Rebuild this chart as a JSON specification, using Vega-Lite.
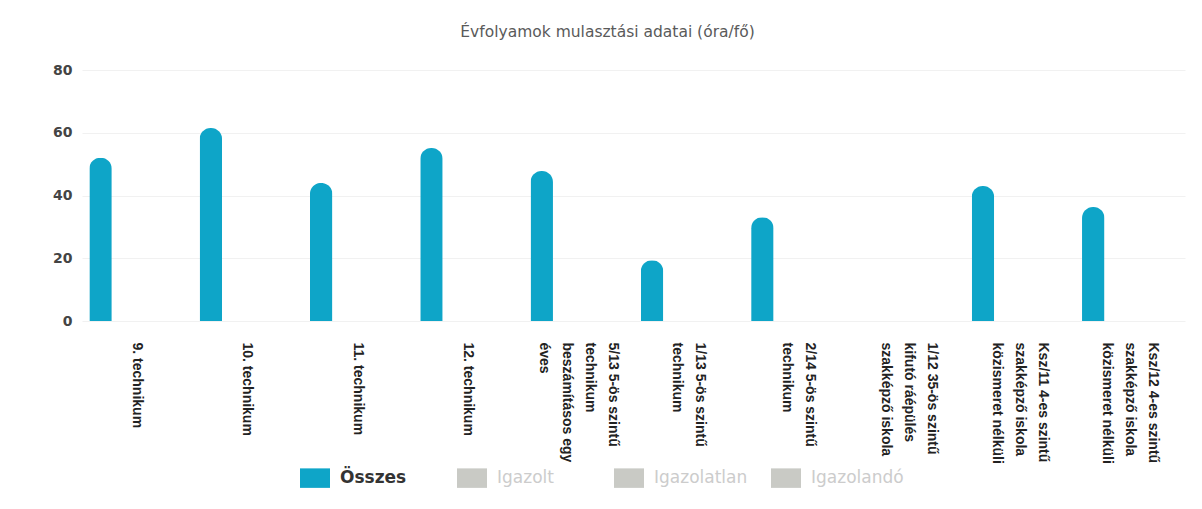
{
  "$schema": "https://vega.github.io/schema/vega-lite/v6.json",
  "autosize": "none",
  "width": 1103,
  "height": 251,
  "padding": {"left": 82, "top": 70, "right": 17, "bottom": 188},
  "background": "white",
  "title": {
    "text": "Évfolyamok mulasztási adatai (óra/fő)",
    "fontSize": 15.5,
    "font": "DejaVu Sans",
    "fontWeight": "normal",
    "color": "#5a5a5a",
    "offset": 23,
    "dx": -26
  },
  "data": {
    "values": [
      {"evfolyam": "9. technikum", "sorozat": "Összes", "ertek": 52.0},
      {"evfolyam": "10. technikum", "sorozat": "Összes", "ertek": 61.5},
      {"evfolyam": "11. technikum", "sorozat": "Összes", "ertek": 44.0},
      {"evfolyam": "12. technikum", "sorozat": "Összes", "ertek": 55.1},
      {"evfolyam": "5/13 5-ös szintű|technikum|beszámításos egy|éves", "sorozat": "Összes", "ertek": 47.8},
      {"evfolyam": "1/13 5-ös szintű|technikum", "sorozat": "Összes", "ertek": 19.4},
      {"evfolyam": "2/14 5-ös szintű|technikum", "sorozat": "Összes", "ertek": 33.1},
      {"evfolyam": "1/12 35-ös szintű|kifutó ráépülés|szakképző iskola", "sorozat": "Összes", "ertek": 0},
      {"evfolyam": "Ksz/11 4-es szintű|szakképző iskola|közismeret nélküli", "sorozat": "Összes", "ertek": 43.0},
      {"evfolyam": "Ksz/12 4-es szintű|szakképző iskola|közismeret nélküli", "sorozat": "Összes", "ertek": 36.3}
    ]
  },
  "mark": {
    "type": "bar",
    "cornerRadiusTopLeft": 11,
    "cornerRadiusTopRight": 11
  },
  "encoding": {
    "x": {
      "field": "evfolyam",
      "type": "nominal",
      "sort": null,
      "scale": {"paddingInner": 0, "paddingOuter": 0},
      "axis": {
        "title": null,
        "labelAngle": 90,
        "labelAlign": "left",
        "labelBaseline": "middle",
        "labelExpr": "split(datum.label, '|')",
        "labelFont": "Liberation Sans Narrow, Liberation Sans",
        "labelFontWeight": "bold",
        "labelFontSize": 14,
        "labelLineHeight": 23,
        "labelColor": "#222222",
        "labelPadding": 21,
        "labelLimit": 0,
        "labelOffset": {"expr": "(length(split(datum.label, '|')) - 1) * 11.5"},
        "ticks": false,
        "domain": false,
        "grid": false,
        "labelOverlap": false
      }
    },
    "xOffset": {
      "field": "sorozat",
      "type": "nominal",
      "scale": {"domain": ["Összes", "Igazolt", "Igazolatlan", "Igazolandó"], "paddingInner": 0.08, "paddingOuter": 0.3}
    },
    "y": {
      "field": "ertek",
      "type": "quantitative",
      "scale": {"domain": [0, 80]},
      "axis": {
        "title": null,
        "values": [0, 20, 40, 60, 80],
        "labelFont": "DejaVu Sans",
        "labelFontSize": 14,
        "labelFontWeight": "bold",
        "labelColor": "#444444",
        "labelPadding": 10,
        "ticks": false,
        "domain": false,
        "grid": true,
        "gridColor": "#f1f1f1"
      }
    },
    "color": {
      "field": "sorozat",
      "type": "nominal",
      "scale": {
        "domain": ["Összes", "Igazolt", "Igazolatlan", "Igazolandó"],
        "range": ["#0ea5c8", "#c9cac5", "#c9cac5", "#c9cac5"]
      },
      "legend": {
        "title": null,
        "orient": "none",
        "legendX": 218,
        "legendY": 393,
        "padding": 0,
        "direction": "horizontal",
        "gridAlign": "all",
        "symbolType": "M-1,-0.65L1,-0.65L1,0.65L-1,0.65Z",
        "symbolSize": 900,
        "symbolStrokeWidth": 0,
        "symbolOpacity": 1,
        "labelFont": "DejaVu Sans",
        "labelFontSize": 17,
        "columnPadding": 23,
        "labelOffset": 10,
        "encode": {
          "labels": {
            "update": {
              "fill": {"signal": "datum.label == 'Összes' ? '#333333' : '#cccccc'"},
              "fontWeight": {"signal": "datum.label == 'Összes' ? 'bold' : 'normal'"}
            }
          }
        }
      }
    }
  },
  "config": {
    "view": {"stroke": null}
  }
}
